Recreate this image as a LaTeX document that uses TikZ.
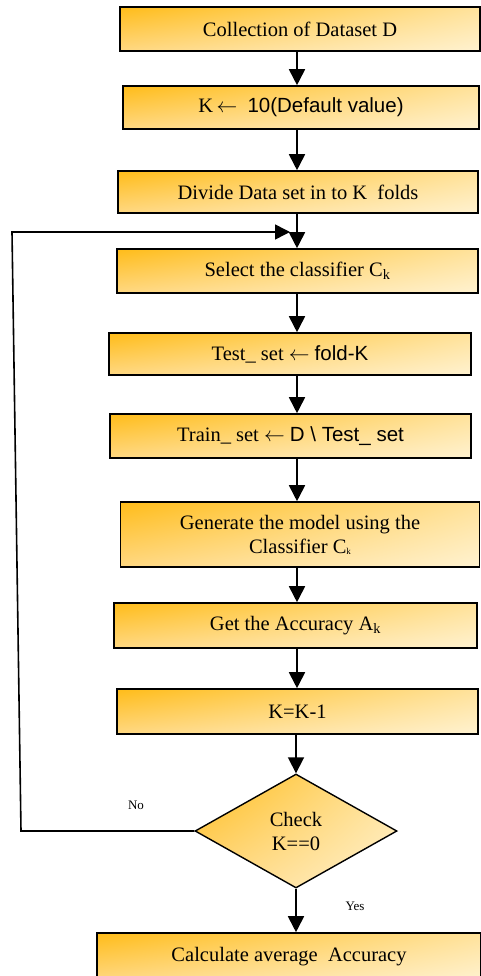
\documentclass[tikz,border=0pt]{standalone}
\usepackage{fontspec}
\setmainfont{Liberation Serif}
\setsansfont{Liberation Sans}
\usetikzlibrary{shapes.geometric,arrows.meta,shadings}

\definecolor{boxdeep}{RGB}{255,188,25}
\definecolor{boxmidA}{RGB}{255,226,155}
\definecolor{boxmidB}{RGB}{255,216,130}
\definecolor{boxpale}{RGB}{255,242,208}

\newcommand{\subk}{\textsubscript{k}}
\newcommand{\subktiny}{{\fontsize{9}{9}\selectfont\raisebox{-1pt}{k}}}
\newcommand{\assignarrow}{$\leftarrow$}

\tikzset{
  procbox/.style={rectangle, draw=black, line width=1.6pt,
    upper left=boxdeep, upper right=boxmidA,
    lower left=boxmidB, lower right=boxpale,
    inner sep=2pt, align=center,
    font=\fontsize{20.5}{24}\selectfont},
  decbox/.style={diamond, draw=black, line width=1.4pt,
    upper left=boxdeep, upper right=boxmidA,
    lower left=boxmidB, lower right=boxpale,
    inner sep=0pt, align=center,
    font=\fontsize{20.5}{24}\selectfont},
  flow/.style={line width=1.8pt, -{Triangle[width=16pt,length=16pt]}},
  loopline/.style={line width=1.6pt, -{Triangle[width=15pt,length=15pt]}},
  branchlabel/.style={font=\fontsize{13}{15}\selectfont}
}

\begin{document}
\begin{tikzpicture}[x=1pt,y=-1pt]
\useasboundingbox (0,0) rectangle (481,976);

% process steps
\node[procbox, minimum width=360pt, minimum height=44pt] (collect) at (300,29)
  {Collection of Dataset D};
\node[procbox, minimum width=356pt, minimum height=43pt] (setk) at (301,107.5)
  {K\,\assignarrow\ \ \textsf{10(Default value)}};
\node[procbox, minimum width=360pt, minimum height=42pt] (divide) at (298,192)
  {Divide Data set in to K\ \ folds};
\node[procbox, minimum width=361pt, minimum height=44pt] (select) at (297.5,271)
  {Select the classifier C\subk};
\node[procbox, minimum width=362pt, minimum height=42pt] (testset) at (290,354)
  {Test\_ set \assignarrow\ \textsf{fold-K}};
\node[procbox, minimum width=361pt, minimum height=44pt] (trainset) at (290.5,436)
  {Train\_ set \assignarrow\ \textsf{D \textbackslash\ Test\_ set}};
\node[procbox, minimum width=359pt, minimum height=65pt] (model) at (300,534.5)
  {Generate the model using the\\Classifier C\subktiny};
\node[procbox, minimum width=363pt, minimum height=45pt] (accuracy) at (295.5,625.5)
  {Get the Accuracy A\subk};
\node[procbox, minimum width=361pt, minimum height=45pt] (decrement) at (297.5,711.5)
  {K=K-1};
\node[decbox, minimum width=202pt, minimum height=114pt] (check) at (296,831)
  {Check\\K==0};
\node[procbox, minimum width=384pt, minimum height=48pt] (average) at (289,957)
  {Calculate average\ \ Accuracy};

% main spine of the flow
\coordinate (spine) at (297,0);
\draw[flow] (collect.south -| spine) -- (setk.north -| spine);
\draw[flow] (setk.south -| spine) -- (divide.north -| spine);
\draw[flow] (divide.south -| spine) -- (select.north -| spine);
\draw[flow] (select.south -| spine) -- (testset.north -| spine);
\draw[flow] (testset.south -| spine) -- (trainset.north -| spine);
\draw[flow] (trainset.south -| spine) -- (model.north -| spine);
\draw[flow] (model.south -| spine) -- (accuracy.north -| spine);
\draw[flow] (accuracy.south -| spine) -- (decrement.north -| spine);
\draw[flow] (decrement.south -| check.north) -- (check.north);
\draw[flow] (check.south) -- (check.south |- average.north);

% loop back when K is not yet zero
\coordinate (loopbottom) at (21,831);
\coordinate (looptop) at (12,232);
\coordinate (merge) at (290,232);
\draw[loopline] (check.west) -- (loopbottom) -- (looptop) -- (merge);

% branch labels
\node[branchlabel] (nolabel) at (136,805) {No};
\node[branchlabel] (yeslabel) at (355,906) {Yes};
\end{tikzpicture}
\end{document}
